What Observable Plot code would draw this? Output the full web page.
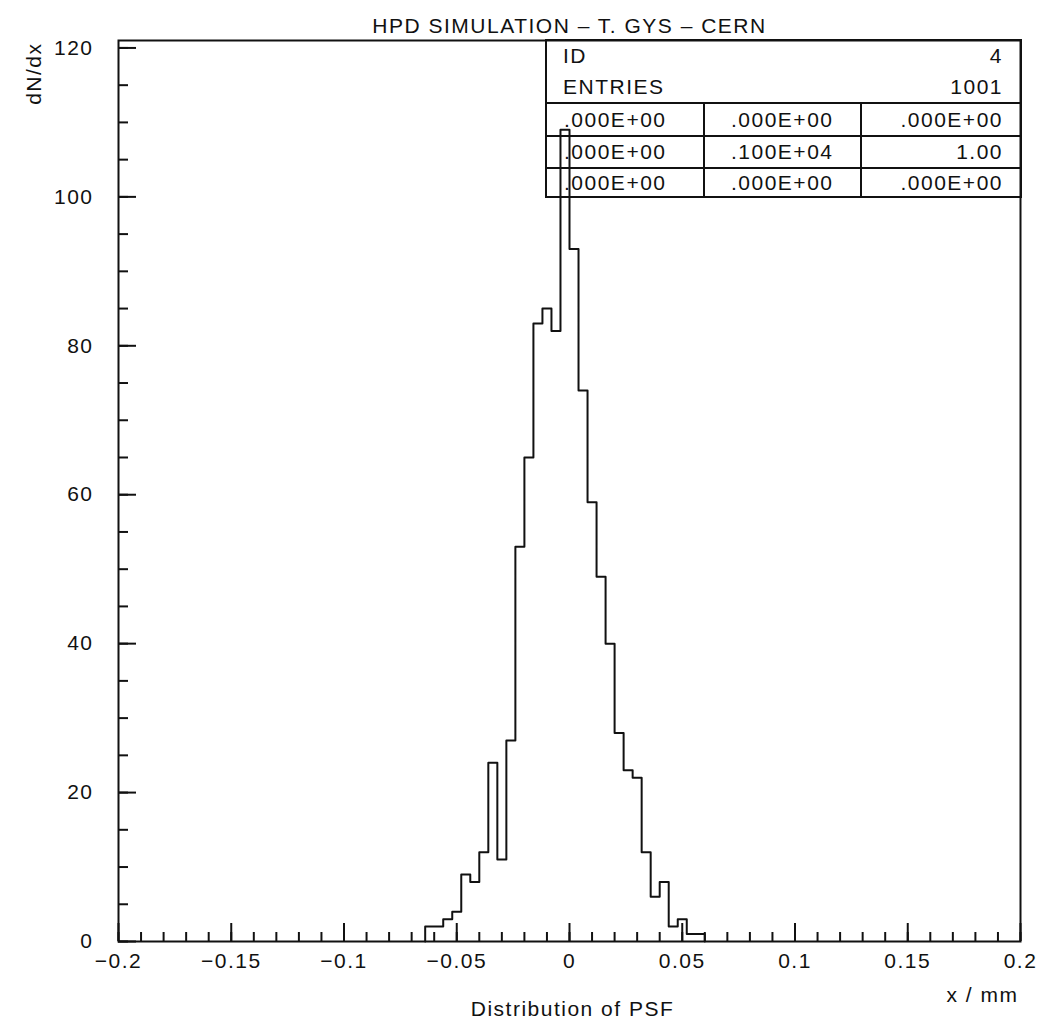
<!DOCTYPE html>
<html>
<head>
<meta charset="utf-8">
<script src="https://cdn.jsdelivr.net/npm/d3@7"></script>
<script src="https://cdn.jsdelivr.net/npm/@observablehq/plot@0.6"></script>
<style>
  html, body { margin: 0; padding: 0; background: #fff; }
  #wrap { position: relative; width: 1042px; height: 1035px; font-family: "Liberation Sans", Arial, sans-serif; color: #111; }
  #wrap svg { display: block; }
  g[aria-label="ylabel"] text { letter-spacing: 3px; }
  g[aria-label="xlabel"] text { letter-spacing: 3px; }
  g[aria-label="caption"] text { letter-spacing: 2px; }
  #stats { position: absolute; left: 545px; top: 39px; width: 477px; height: 159px; border: 2px solid #111; box-sizing: border-box; font-size: 21px; letter-spacing: 1.5px; }
  #stats .hrow { display: flex; justify-content: space-between; align-items: center; height: 30.5px; padding: 0 17px 0 16px; }
  #stats .hrow.last { border-bottom: 2px solid #111; }
  #stats .grow { display: flex; height: 31.33px; box-sizing: border-box; align-items: center; }
  #stats .grow + .grow { border-top: 2px solid #111; }
  #stats .c { height: 100%; box-sizing: border-box; display: flex; align-items: center; }
  #stats .c1 { width: 155.5px; padding-left: 17px; }
  #stats .c2 { width: 157.5px; border-left: 2px solid #111; justify-content: center; }
  #stats .c3 { flex: 1; border-left: 2px solid #111; justify-content: flex-end; padding-right: 17px; }
</style>
</head>
<body>
<div id="wrap"></div>
<script>
// ---- data ----
const binLow = [-0.064, -0.060, -0.056, -0.052, -0.048, -0.044, -0.040, -0.036, -0.032, -0.028,
                -0.024, -0.020, -0.016, -0.012, -0.008, -0.004, 0.000, 0.004, 0.008, 0.012,
                0.016, 0.020, 0.024, 0.028, 0.032, 0.036, 0.040, 0.044, 0.048, 0.052, 0.056];
const counts = [2, 2, 3, 4, 9, 8, 12, 24, 11, 27,
                53, 65, 83, 85, 82, 109, 93, 74, 59, 49,
                40, 28, 23, 22, 12, 6, 8, 2, 3, 1, 1];
const binWidth = 0.004;

const xTickValues = [-0.2, -0.15, -0.1, -0.05, 0, 0.05, 0.1, 0.15, 0.2];
const xTickLabels = ["\u22120.2", "\u22120.15", "\u22120.1", "\u22120.05", "0", "0.05", "0.1", "0.15", "0.2"];
const yTickValues = [0, 20, 40, 60, 80, 100, 120];
const yTickLabels = ["0", "20", "40", "60", "80", "100", "120"];

const titleText = "HPD SIMULATION \u2013 T. GYS \u2013 CERN";
const yLabelText = "dN/dx";
const xLabelText = "x / mm";
const captionText = "Distribution of PSF";

const statsHeaderKeys = ["ID", "ENTRIES"];
const statsHeaderVals = ["4", "1001"];
const statsGrid = [
  [".000E+00", ".000E+00", ".000E+00"],
  [".000E+00", ".100E+04", "1.00"],
  [".000E+00", ".000E+00", ".000E+00"]
];

// ---- layout ----
const W = 1042, H = 1035;
const mL = 118, mR = 22, mT = 40, mB = 94;
const frameW = W - mL - mR, frameH = H - mT - mB;

// outline points of the histogram (step-after)
const last = binLow.length - 1;
const pts = [{x: binLow[0], y: 0}]
  .concat(binLow.map((x, i) => ({x, y: counts[i]})))
  .concat([{x: binLow[last] + binWidth, y: counts[last]}, {x: binLow[last] + binWidth, y: 0}]);

const xMinor = d3.ticks(-0.2, 0.2, 40);
const yMinor = d3.ticks(0, 120, 24);
const xLab = new Map(xTickValues.map((v, i) => [v, xTickLabels[i]]));
const yLab = new Map(yTickValues.map((v, i) => [v, yTickLabels[i]]));

const chart = Plot.plot({
  width: W, height: H,
  marginLeft: mL, marginRight: mR, marginTop: mT, marginBottom: mB,
  style: {fontFamily: "'Liberation Sans', Arial, sans-serif", fontSize: "21px", letterSpacing: "1.5px", color: "#111", background: "#fff"},
  x: {domain: [-0.2, 0.2]},
  y: {domain: [0, 121]},
  marks: [
    Plot.tickX(xMinor, {x: d => d, insetTop: frameH - 9, strokeWidth: 2}),
    Plot.tickX(xTickValues, {x: d => d, insetTop: frameH - 18, strokeWidth: 2}),
    Plot.tickY(yMinor, {y: d => d, insetRight: frameW - 10, strokeWidth: 2}),
    Plot.tickY(yTickValues, {y: d => d, insetRight: frameW - 18, strokeWidth: 2}),
    Plot.axisX({ticks: xTickValues, tickSize: 0, tickPadding: 12, tickFormat: d => xLab.get(d), label: null}),
    Plot.axisY({ticks: yTickValues, tickSize: 0, tickPadding: 25, tickFormat: d => yLab.get(d), label: null}),
    Plot.line(pts, {x: "x", y: "y", curve: "step-after", stroke: "#111", strokeWidth: 2}),
    Plot.frame({strokeWidth: 2, stroke: "#111"}),
    Plot.text([titleText], {frameAnchor: "top", dy: -22, ariaLabel: "title"}),
    Plot.text([yLabelText], {frameAnchor: "top-left", dx: -92, dy: 2, rotate: -90, textAnchor: "end", ariaLabel: "ylabel"}),
    Plot.text([xLabelText], {frameAnchor: "bottom-right", dx: -2, dy: 60, textAnchor: "end", ariaLabel: "xlabel"}),
    Plot.text([captionText], {frameAnchor: "bottom", dx: 3, dy: 74, ariaLabel: "caption"})
  ]
});

const wrap = document.getElementById("wrap");
wrap.appendChild(chart);

// statistics box
const box = document.createElement("div");
box.id = "stats";
statsHeaderKeys.forEach((k, i) => {
  const r = document.createElement("div");
  r.className = "hrow" + (i === statsHeaderKeys.length - 1 ? " last" : "");
  const a = document.createElement("span"); a.textContent = k;
  const b = document.createElement("span"); b.textContent = statsHeaderVals[i];
  r.appendChild(a); r.appendChild(b);
  box.appendChild(r);
});
statsGrid.forEach(row => {
  const r = document.createElement("div");
  r.className = "grow";
  row.forEach((v, j) => {
    const c = document.createElement("div");
    c.className = "c c" + (j + 1);
    c.textContent = v;
    r.appendChild(c);
  });
  box.appendChild(r);
});
wrap.appendChild(box);
</script>
</body>
</html>
